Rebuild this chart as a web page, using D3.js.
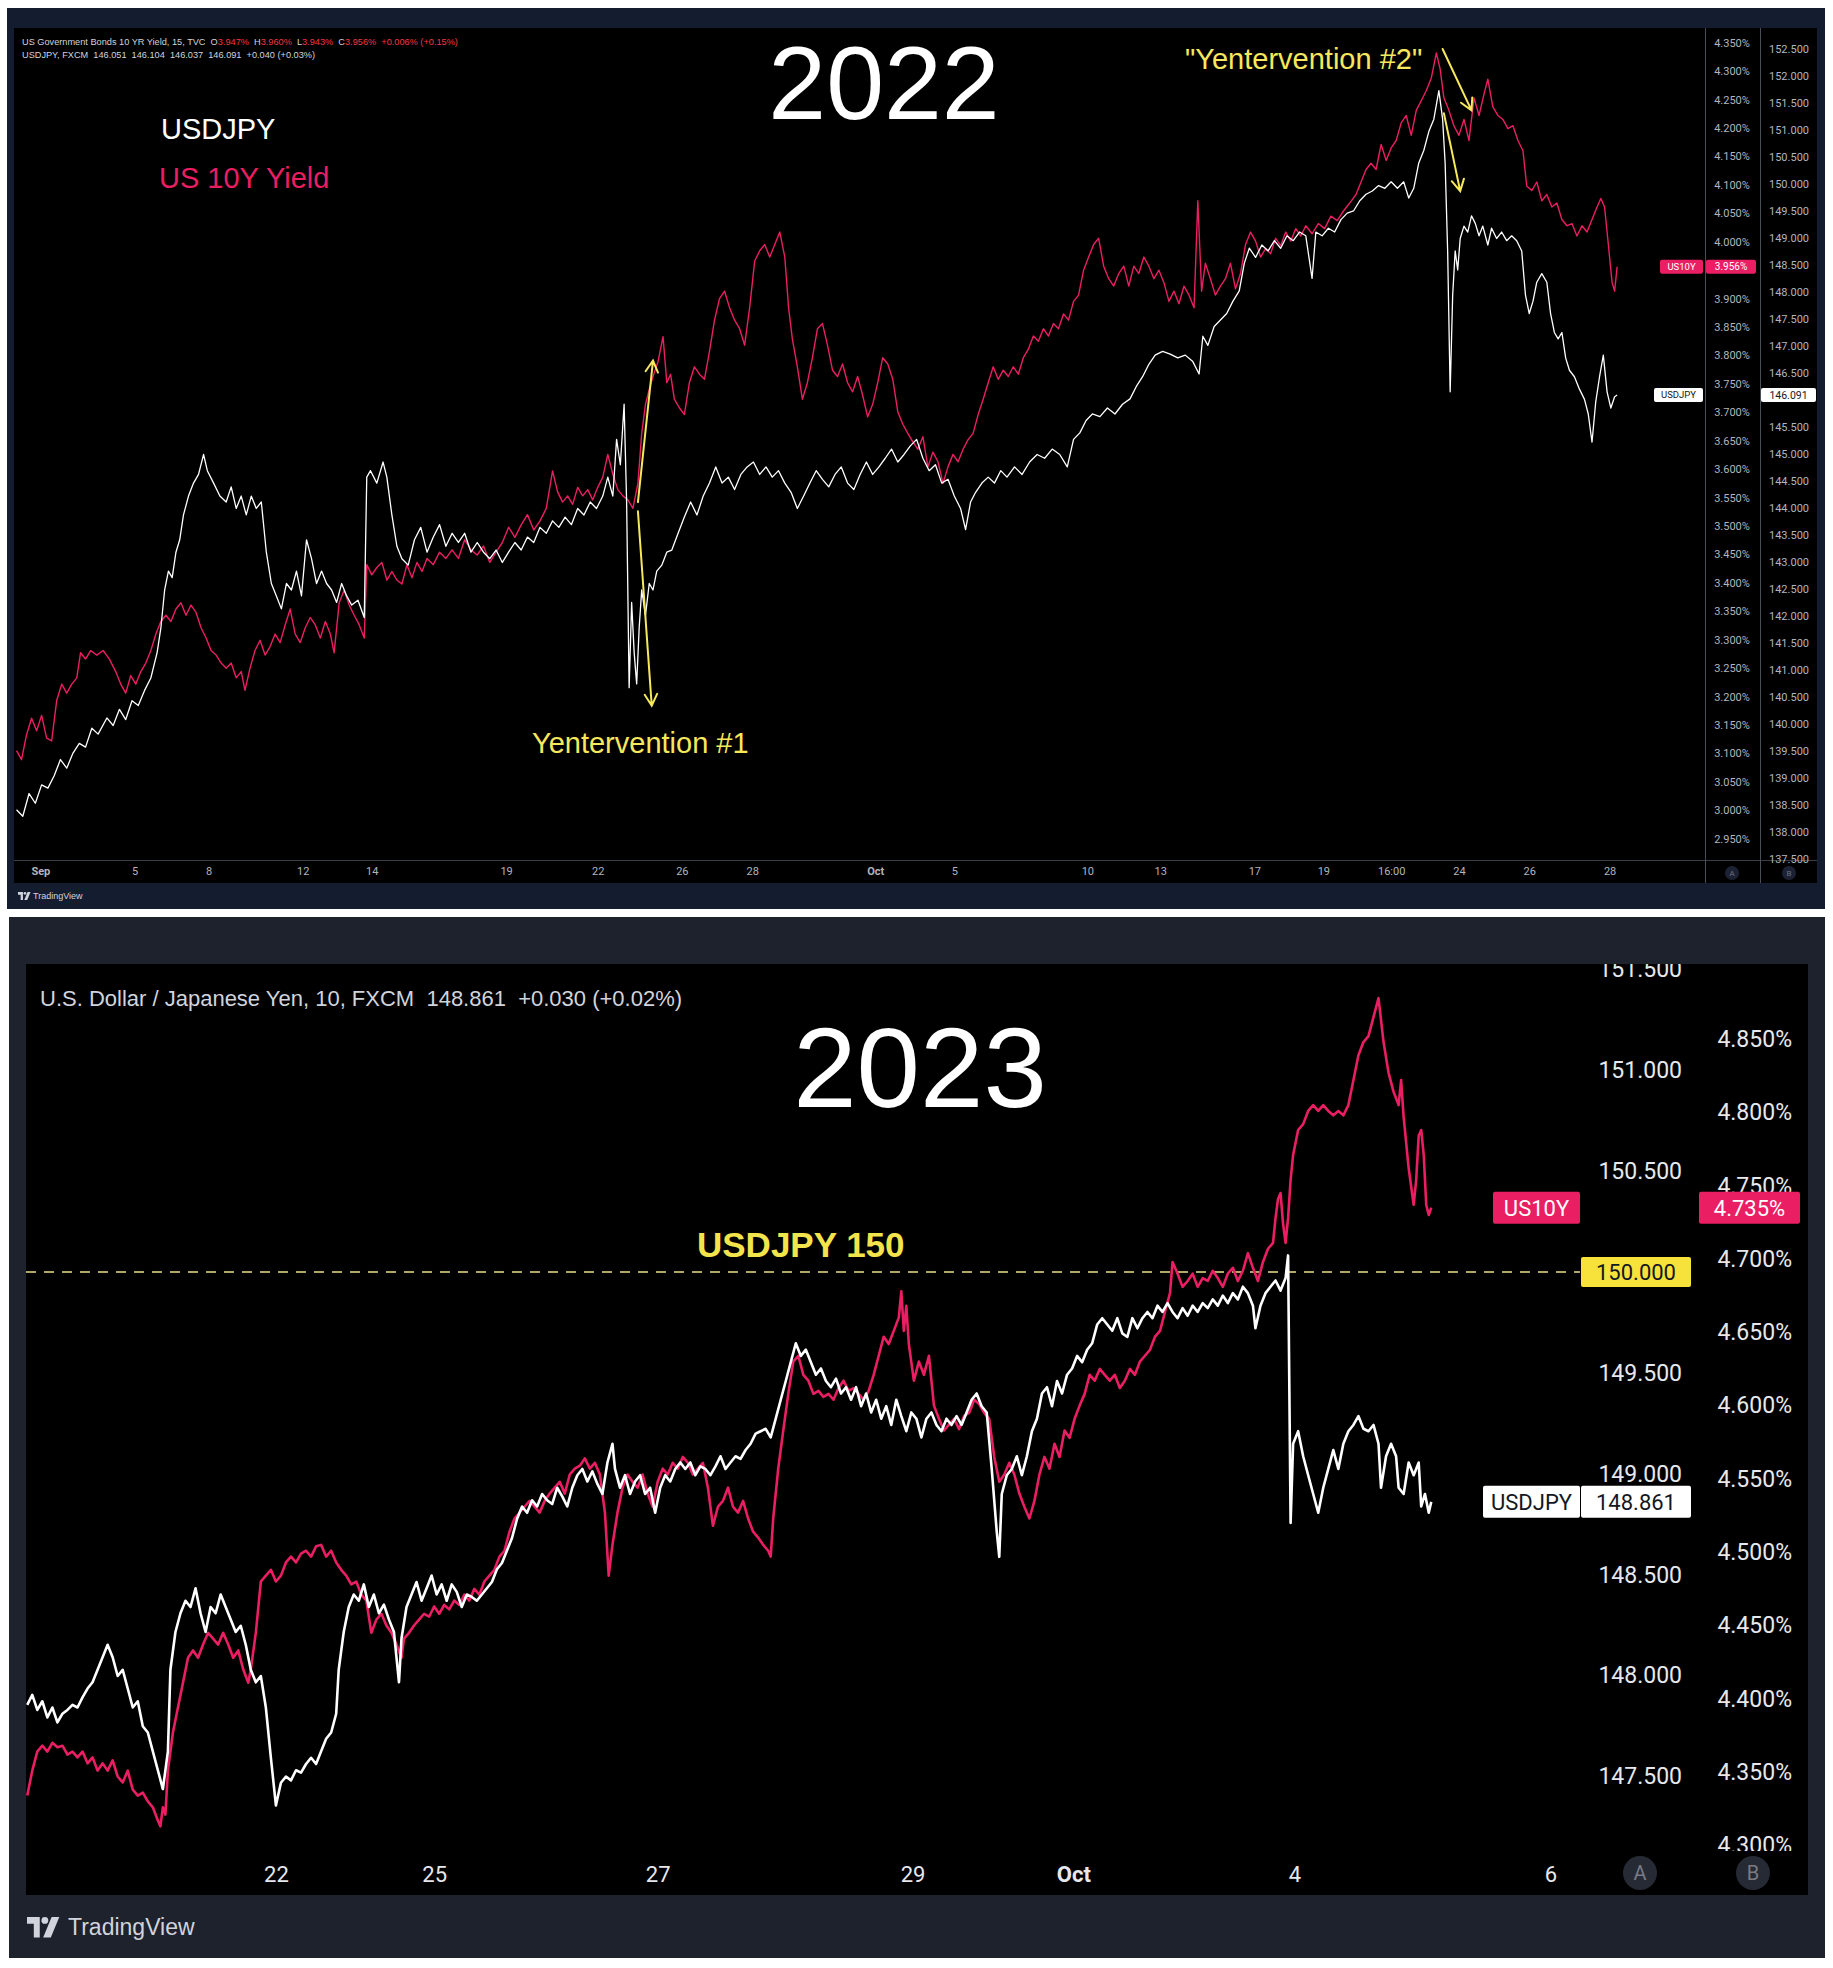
<!DOCTYPE html>
<html>
<head>
<meta charset="utf-8">
<title>USDJPY vs US 10Y Yield – 2022 / 2023</title>
<script src="https://cdn.jsdelivr.net/npm/d3@7"></script>
<style>
  body { margin: 0; background: #fff; }
  svg { display: block; }
  .pre { white-space: pre; }
</style>
</head>
<body>
<script>
// ---------- data (bar index, value) ----------
// 2022 panel, 15 min bars
const usdjpy2022 = [[13,138.41],[18,138.29],[23,138.71],[28,138.53],[33,138.87],[38,138.81],[43,139.04],[48,139.34],[53,139.18],[58,139.46],[63,139.64],[68,139.57],[73,139.92],[78,139.81],[85,140.11],[90,139.97],[95,140.27],[100,140.08],[105,140.43],[110,140.34],[115,140.62],[120,140.85],[125,141.32],[128,141.78],[131,142.48],[134,142.83],[137,142.71],[140,143.18],[143,143.41],[146,143.87],[150,144.22],[154,144.46],[158,144.62],[162,144.99],[165,144.69],[170,144.46],[175,144.22],[180,144.11],[184,144.39],[188,143.99],[192,144.22],[196,143.87],[200,144.22],[204,143.99],[208,144.11],[212,143.18],[216,142.60],[220,142.37],[224,142.13],[228,142.60],[232,142.48],[236,142.83],[240,142.37],[244,143.41],[248,143.06],[252,142.60],[256,142.83],[260,142.60],[264,142.48],[268,142.25],[272,142.60],[276,142.37],[280,142.20],[285,142.29],[290,141.97],[292,144.57],[295,144.69],[300,144.46],[305,144.85],[308,144.57],[312,143.87],[316,143.29],[320,143.06],[325,142.94],[330,143.41],[335,143.64],[340,143.18],[345,143.46],[350,143.69],[355,143.29],[360,143.53],[365,143.36],[370,143.53],[375,143.18],[380,143.36],[385,143.18],[390,143.06],[395,143.22],[400,142.99],[405,143.18],[410,143.36],[415,143.22],[420,143.46],[425,143.36],[430,143.64],[435,143.53],[440,143.76],[445,143.64],[450,143.83],[455,143.69],[460,143.99],[465,143.87],[470,144.11],[475,143.99],[480,144.22],[484,144.57],[488,144.22],[491,145.27],[494,144.80],[497,145.92],[499,144.11],[501,140.67],[503,142.25],[505,141.32],[507,140.74],[509,141.78],[511,142.48],[514,142.01],[517,142.60],[520,142.48],[523,142.83],[527,142.94],[531,143.18],[535,143.22],[540,143.53],[545,143.83],[550,144.11],[555,143.87],[560,144.22],[565,144.46],[570,144.76],[575,144.46],[580,144.57],[585,144.34],[590,144.62],[595,144.76],[600,144.85],[605,144.62],[610,144.76],[615,144.57],[620,144.69],[625,144.46],[630,144.29],[635,143.99],[640,144.22],[645,144.46],[650,144.69],[655,144.53],[660,144.39],[665,144.62],[670,144.76],[675,144.46],[680,144.34],[685,144.62],[690,144.85],[695,144.62],[700,144.76],[705,144.92],[710,145.09],[715,144.85],[720,144.99],[725,145.15],[730,145.27],[735,144.92],[740,144.69],[745,144.80],[750,144.46],[755,144.53],[760,144.22],[765,143.99],[769,143.60],[773,144.11],[777,144.29],[782,144.46],[787,144.57],[792,144.46],[797,144.69],[802,144.57],[808,144.76],[814,144.62],[820,144.85],[826,144.99],[832,144.92],[838,145.09],[844,144.99],[850,144.76],[855,145.27],[860,145.39],[865,145.62],[870,145.74],[876,145.69],[882,145.85],[888,145.74],[894,145.92],[900,146.02],[905,146.25],[910,146.43],[915,146.66],[920,146.83],[926,146.90],[932,146.85],[938,146.78],[944,146.83],[950,146.71],[955,146.48],[958,147.18],[962,147.01],[967,147.36],[972,147.48],[977,147.60],[982,147.83],[987,148.02],[991,148.53],[995,148.81],[1000,148.64],[1005,148.87],[1010,148.76],[1015,148.95],[1020,148.81],[1025,149.04],[1030,148.95],[1035,149.11],[1040,149.04],[1045,148.25],[1048,149.11],[1053,149.04],[1058,149.18],[1063,149.11],[1068,149.34],[1073,149.46],[1078,149.50],[1083,149.69],[1088,149.81],[1093,149.87],[1098,149.97],[1103,149.92],[1108,150.04],[1113,149.92],[1118,150.04],[1122,149.74],[1126,149.92],[1130,150.39],[1134,150.62],[1138,150.97],[1142,151.20],[1146,151.73],[1149,151.20],[1151,150.39],[1153,148.76],[1155,146.15],[1157,147.94],[1159,148.76],[1161,148.41],[1163,148.99],[1166,149.22],[1169,149.11],[1172,149.41],[1175,149.27],[1178,149.04],[1181,149.22],[1185,148.87],[1188,149.18],[1192,148.99],[1196,149.11],[1200,148.95],[1204,149.04],[1208,148.95],[1212,148.76],[1215,147.94],[1218,147.60],[1221,147.83],[1224,148.18],[1228,148.34],[1232,148.18],[1235,147.60],[1238,147.25],[1241,147.13],[1244,147.25],[1247,146.78],[1250,146.55],[1254,146.43],[1258,146.20],[1262,146.01],[1265,145.74],[1268,145.22],[1271,145.97],[1274,146.43],[1277,146.83],[1280,146.15],[1283,145.85],[1286,146.06],[1288,146.091]];

const us10y2022 = [[13,3.105],[17,3.089],[21,3.133],[25,3.162],[29,3.140],[33,3.167],[37,3.127],[41,3.122],[45,3.193],[49,3.222],[53,3.206],[57,3.222],[61,3.233],[64,3.277],[68,3.266],[72,3.281],[77,3.273],[82,3.281],[87,3.266],[92,3.244],[96,3.222],[100,3.206],[104,3.237],[108,3.222],[112,3.244],[116,3.259],[120,3.281],[124,3.310],[128,3.332],[132,3.343],[136,3.332],[140,3.354],[144,3.365],[148,3.343],[152,3.361],[156,3.348],[160,3.321],[164,3.303],[168,3.281],[172,3.273],[176,3.259],[180,3.250],[184,3.259],[188,3.233],[192,3.244],[195,3.211],[199,3.250],[203,3.281],[207,3.299],[211,3.273],[215,3.288],[219,3.310],[223,3.295],[227,3.326],[231,3.354],[235,3.310],[239,3.295],[243,3.321],[247,3.339],[251,3.326],[255,3.303],[259,3.332],[263,3.310],[266,3.277],[270,3.365],[274,3.387],[278,3.361],[282,3.343],[286,3.326],[290,3.303],[292,3.432],[296,3.414],[300,3.427],[304,3.436],[308,3.405],[312,3.420],[316,3.405],[320,3.398],[324,3.432],[328,3.409],[332,3.436],[336,3.420],[340,3.443],[345,3.432],[350,3.454],[355,3.443],[360,3.458],[365,3.443],[370,3.476],[375,3.458],[380,3.449],[385,3.465],[390,3.436],[395,3.454],[400,3.471],[405,3.498],[410,3.480],[415,3.502],[420,3.520],[425,3.493],[430,3.509],[435,3.531],[440,3.597],[444,3.560],[448,3.542],[452,3.553],[456,3.538],[460,3.568],[464,3.553],[468,3.564],[472,3.546],[476,3.568],[480,3.586],[484,3.626],[488,3.591],[492,3.564],[496,3.553],[500,3.546],[504,3.531],[508,3.575],[511,3.663],[514,3.714],[517,3.740],[520,3.763],[524,3.789],[528,3.833],[531,3.752],[534,3.767],[537,3.723],[541,3.708],[545,3.696],[549,3.752],[553,3.780],[557,3.767],[561,3.758],[565,3.807],[569,3.862],[573,3.900],[577,3.913],[581,3.884],[585,3.862],[589,3.847],[593,3.818],[597,3.884],[601,3.966],[605,3.984],[609,3.995],[613,3.973],[617,3.995],[621,4.017],[625,3.973],[628,3.884],[631,3.829],[635,3.780],[639,3.723],[643,3.752],[647,3.796],[651,3.847],[655,3.856],[659,3.818],[663,3.774],[667,3.763],[671,3.785],[675,3.752],[679,3.736],[683,3.763],[687,3.730],[691,3.692],[695,3.714],[699,3.752],[703,3.796],[707,3.785],[711,3.758],[715,3.701],[719,3.679],[723,3.663],[727,3.648],[731,3.635],[735,3.657],[739,3.604],[743,3.630],[747,3.613],[751,3.575],[755,3.604],[759,3.626],[763,3.613],[767,3.635],[771,3.652],[775,3.663],[779,3.696],[783,3.723],[787,3.752],[791,3.780],[795,3.758],[799,3.774],[803,3.763],[807,3.780],[811,3.767],[815,3.796],[819,3.811],[823,3.834],[827,3.825],[831,3.847],[835,3.834],[839,3.856],[843,3.847],[847,3.873],[851,3.862],[855,3.895],[859,3.906],[863,3.950],[867,3.973],[871,3.995],[875,4.006],[879,3.957],[883,3.935],[887,3.922],[891,3.944],[895,3.957],[899,3.922],[903,3.957],[907,3.944],[911,3.973],[915,3.957],[919,3.935],[923,3.950],[927,3.928],[931,3.895],[935,3.913],[939,3.891],[943,3.922],[947,3.906],[951,3.884],[954,4.072],[957,3.913],[960,3.962],[964,3.935],[968,3.906],[972,3.922],[976,3.935],[980,3.962],[984,3.917],[988,3.944],[992,3.995],[996,4.017],[1000,4.001],[1004,3.973],[1008,3.988],[1012,3.979],[1016,4.006],[1020,3.993],[1024,4.017],[1028,4.001],[1032,4.023],[1036,4.010],[1040,4.028],[1045,4.014],[1050,4.032],[1055,4.023],[1060,4.045],[1065,4.037],[1070,4.054],[1075,4.068],[1080,4.083],[1084,4.105],[1088,4.127],[1092,4.138],[1096,4.127],[1100,4.171],[1104,4.143],[1108,4.165],[1112,4.178],[1116,4.209],[1120,4.222],[1124,4.187],[1128,4.231],[1132,4.248],[1136,4.266],[1140,4.288],[1144,4.332],[1147,4.304],[1150,4.253],[1154,4.231],[1158,4.204],[1162,4.187],[1166,4.215],[1170,4.178],[1174,4.253],[1178,4.222],[1182,4.260],[1185,4.286],[1189,4.237],[1193,4.222],[1197,4.215],[1201,4.199],[1205,4.204],[1209,4.178],[1213,4.160],[1216,4.098],[1220,4.090],[1224,4.105],[1228,4.072],[1232,4.083],[1236,4.061],[1240,4.068],[1244,4.039],[1248,4.028],[1252,4.032],[1256,4.010],[1260,4.028],[1264,4.017],[1268,4.039],[1272,4.061],[1275,4.076],[1278,4.061],[1281,3.995],[1284,3.928],[1286,3.913],[1288,3.956]];

// 2023 panel, 10 min bars
const usdjpy2023 = [[22,147.855],[26,147.905],[30,147.830],[34,147.873],[38,147.793],[42,147.842],[46,147.768],[50,147.811],[54,147.830],[58,147.855],[62,147.842],[66,147.892],[70,147.936],[74,147.967],[78,148.029],[82,148.091],[86,148.153],[90,148.091],[94,147.998],[98,148.029],[102,147.936],[106,147.842],[110,147.873],[114,147.749],[118,147.718],[122,147.625],[126,147.531],[130,147.438],[134,147.625],[136,148.029],[140,148.216],[144,148.309],[148,148.371],[152,148.340],[156,148.433],[160,148.309],[164,148.216],[168,148.340],[172,148.309],[176,148.402],[180,148.340],[184,148.278],[188,148.216],[192,148.247],[196,148.153],[200,148.029],[204,147.967],[208,147.998],[212,147.842],[216,147.593],[220,147.357],[224,147.469],[228,147.500],[232,147.481],[236,147.531],[240,147.519],[244,147.562],[248,147.593],[252,147.562],[256,147.625],[260,147.687],[264,147.718],[268,147.811],[270,148.029],[274,148.216],[278,148.340],[282,148.402],[286,148.371],[290,148.452],[294,148.340],[298,148.402],[302,148.309],[306,148.352],[310,148.278],[314,148.216],[318,147.967],[320,148.184],[324,148.340],[328,148.402],[332,148.464],[336,148.371],[340,148.433],[344,148.496],[348,148.402],[352,148.452],[356,148.371],[360,148.452],[364,148.415],[368,148.340],[372,148.402],[376,148.390],[380,148.371],[384,148.402],[388,148.433],[392,148.464],[396,148.527],[400,148.558],[404,148.620],[408,148.682],[412,148.776],[416,148.838],[420,148.807],[424,148.869],[428,148.838],[432,148.900],[436,148.869],[440,148.850],[444,148.931],[448,148.888],[452,148.838],[456,148.931],[460,148.993],[464,149.024],[468,148.962],[472,149.012],[476,148.950],[480,148.900],[484,149.056],[488,149.149],[490,149.024],[494,148.931],[498,148.993],[502,148.900],[506,148.962],[510,148.993],[514,148.900],[518,148.931],[522,148.807],[526,148.931],[530,148.993],[534,148.962],[538,149.024],[542,149.056],[546,149.024],[550,149.056],[554,148.993],[558,149.037],[562,149.024],[566,148.993],[570,149.037],[574,149.087],[578,149.024],[582,149.056],[586,149.087],[590,149.074],[594,149.118],[598,149.149],[602,149.199],[606,149.211],[610,149.223],[614,149.180],[618,149.273],[622,149.367],[626,149.460],[630,149.553],[634,149.647],[638,149.584],[642,149.615],[646,149.553],[650,149.491],[654,149.522],[658,149.460],[662,149.429],[666,149.472],[670,149.398],[674,149.429],[678,149.367],[682,149.429],[686,149.335],[690,149.398],[694,149.304],[698,149.367],[702,149.273],[706,149.335],[710,149.242],[714,149.367],[718,149.286],[722,149.211],[726,149.304],[730,149.273],[734,149.180],[738,149.273],[742,149.304],[746,149.242],[750,149.211],[754,149.273],[758,149.242],[762,149.286],[766,149.242],[770,149.304],[774,149.367],[778,149.398],[782,149.335],[786,149.304],[790,149.024],[794,148.713],[796,148.589],[798,148.900],[802,148.993],[806,149.024],[810,149.087],[814,148.993],[818,149.087],[822,149.211],[826,149.273],[830,149.398],[834,149.429],[838,149.335],[842,149.460],[846,149.398],[850,149.491],[854,149.522],[858,149.584],[862,149.553],[866,149.615],[870,149.647],[874,149.740],[878,149.771],[882,149.740],[886,149.709],[890,149.771],[894,149.696],[898,149.678],[902,149.771],[906,149.721],[910,149.771],[914,149.802],[918,149.771],[922,149.833],[926,149.802],[930,149.846],[934,149.802],[938,149.771],[942,149.821],[946,149.783],[950,149.833],[954,149.802],[958,149.846],[962,149.821],[966,149.864],[970,149.833],[974,149.883],[978,149.846],[982,149.895],[986,149.864],[990,149.927],[994,149.895],[998,149.833],[1000,149.721],[1004,149.833],[1008,149.895],[1012,149.927],[1016,149.958],[1020,149.908],[1024,149.970],[1026,150.082],[1028,148.757],[1030,149.149],[1034,149.211],[1038,149.087],[1042,148.993],[1046,148.900],[1050,148.807],[1054,148.931],[1058,149.024],[1062,149.118],[1066,149.024],[1070,149.149],[1074,149.211],[1078,149.242],[1082,149.286],[1086,149.223],[1090,149.211],[1094,149.242],[1098,149.149],[1100,148.931],[1104,149.087],[1108,149.149],[1112,149.087],[1114,148.931],[1118,148.900],[1122,149.056],[1126,148.993],[1128,149.024],[1130,149.056],[1132,148.838],[1135,148.900],[1138,148.807],[1140,148.861]];

const us10y2023 = [[22,4.334],[26,4.351],[30,4.364],[34,4.368],[38,4.364],[42,4.370],[46,4.367],[50,4.368],[54,4.362],[58,4.364],[62,4.360],[66,4.364],[70,4.356],[74,4.360],[78,4.351],[82,4.356],[86,4.351],[90,4.358],[94,4.347],[98,4.343],[102,4.351],[106,4.338],[110,4.334],[114,4.336],[118,4.330],[122,4.326],[126,4.317],[128,4.313],[130,4.326],[132,4.321],[134,4.351],[138,4.377],[142,4.394],[146,4.411],[150,4.428],[154,4.433],[158,4.428],[162,4.437],[166,4.445],[170,4.441],[174,4.437],[178,4.445],[182,4.437],[186,4.428],[190,4.433],[194,4.420],[198,4.411],[200,4.420],[204,4.445],[208,4.480],[212,4.484],[216,4.488],[220,4.480],[224,4.484],[228,4.493],[232,4.497],[236,4.493],[240,4.499],[244,4.501],[248,4.497],[252,4.504],[256,4.505],[260,4.497],[264,4.501],[268,4.493],[272,4.488],[276,4.484],[280,4.478],[284,4.480],[288,4.471],[292,4.467],[296,4.445],[300,4.454],[304,4.458],[308,4.450],[312,4.445],[316,4.437],[320,4.428],[322,4.441],[326,4.445],[330,4.450],[334,4.454],[338,4.458],[342,4.456],[346,4.463],[350,4.458],[354,4.464],[358,4.461],[362,4.467],[366,4.464],[370,4.471],[374,4.467],[378,4.475],[382,4.471],[386,4.480],[390,4.484],[394,4.488],[398,4.497],[402,4.501],[406,4.514],[410,4.523],[414,4.527],[418,4.531],[422,4.535],[426,4.531],[430,4.527],[434,4.535],[438,4.540],[442,4.544],[446,4.548],[450,4.540],[454,4.553],[458,4.557],[462,4.559],[466,4.564],[470,4.557],[474,4.561],[478,4.553],[482,4.527],[485,4.484],[488,4.505],[492,4.527],[496,4.544],[500,4.553],[504,4.548],[508,4.544],[512,4.553],[516,4.540],[520,4.531],[524,4.548],[528,4.557],[532,4.553],[536,4.561],[540,4.557],[544,4.565],[548,4.561],[552,4.553],[556,4.557],[560,4.561],[564,4.544],[568,4.518],[572,4.531],[576,4.535],[580,4.544],[584,4.531],[588,4.527],[592,4.535],[596,4.523],[600,4.514],[604,4.510],[608,4.505],[612,4.501],[614,4.497],[616,4.523],[620,4.557],[624,4.583],[628,4.608],[632,4.630],[636,4.634],[640,4.621],[644,4.617],[648,4.608],[652,4.610],[656,4.606],[660,4.608],[664,4.604],[668,4.612],[672,4.617],[676,4.610],[680,4.612],[684,4.608],[688,4.604],[692,4.610],[696,4.621],[700,4.634],[704,4.647],[708,4.642],[712,4.651],[716,4.660],[718,4.678],[720,4.651],[722,4.668],[724,4.642],[728,4.617],[732,4.630],[736,4.621],[740,4.634],[744,4.600],[748,4.591],[752,4.583],[756,4.587],[760,4.591],[764,4.584],[768,4.593],[772,4.595],[776,4.604],[780,4.601],[784,4.595],[788,4.591],[792,4.565],[796,4.548],[800,4.553],[804,4.561],[808,4.553],[812,4.540],[816,4.531],[820,4.523],[824,4.535],[828,4.553],[832,4.565],[836,4.557],[840,4.574],[844,4.565],[848,4.583],[852,4.578],[856,4.591],[860,4.600],[864,4.608],[868,4.621],[872,4.617],[876,4.625],[880,4.621],[884,4.617],[888,4.621],[892,4.612],[896,4.617],[900,4.625],[904,4.621],[908,4.630],[912,4.634],[916,4.638],[920,4.647],[924,4.651],[928,4.664],[932,4.677],[934,4.698],[938,4.690],[942,4.681],[946,4.685],[950,4.690],[954,4.681],[958,4.687],[962,4.685],[966,4.692],[970,4.687],[974,4.681],[978,4.690],[982,4.694],[986,4.685],[990,4.692],[994,4.704],[998,4.694],[1002,4.685],[1006,4.698],[1010,4.707],[1014,4.711],[1016,4.728],[1018,4.741],[1020,4.745],[1022,4.724],[1024,4.711],[1026,4.728],[1028,4.754],[1030,4.771],[1034,4.788],[1038,4.792],[1042,4.801],[1046,4.805],[1050,4.801],[1054,4.805],[1058,4.801],[1062,4.798],[1066,4.801],[1070,4.798],[1074,4.805],[1078,4.822],[1082,4.839],[1086,4.848],[1090,4.852],[1094,4.865],[1098,4.878],[1102,4.848],[1106,4.827],[1110,4.814],[1114,4.805],[1116,4.822],[1118,4.797],[1122,4.762],[1126,4.737],[1128,4.754],[1130,4.784],[1132,4.788],[1134,4.771],[1136,4.737],[1138,4.730],[1140,4.735]];

// axis ticks (levels hidden behind the last-value tags are left out)
const xTicks2022 = [[32,"Sep"],[107,"5"],[166,"8"],[241,"12"],[296,"14"],[403,"19"],[476,"22"],[543,"26"],[599,"28"],[697,"Oct"],[760,"5"],[866,"10"],[924,"13"],[999,"17"],[1054,"19"],[1108,"16:00"],[1162,"24"],[1218,"26"],[1282,"28"]];
const pctTicks2022 = [4.35,4.30,4.25,4.20,4.15,4.10,4.05,4.00,3.90,3.85,3.80,3.75,3.70,3.65,3.60,3.55,3.50,3.45,3.40,3.35,3.30,3.25,3.20,3.15,3.10,3.05,3.00,2.95];
const pxTicks2022 = [152.5,152.0,151.5,151.0,150.5,150.0,149.5,149.0,148.5,148.0,147.5,147.0,146.5,145.5,145.0,144.5,144.0,143.5,143.0,142.5,142.0,141.5,141.0,140.5,140.0,139.5,139.0,138.5,138.0,137.5];
const xTicks2023 = [[220,"22"],[346,"25"],[524,"27"],[727,"29"],[855,"Oct"],[1031,"4"],[1235,"6"]];
const pxTicks2023 = [151.5,151.0,150.5,149.5,149.0,148.5,148.0,147.5];
const pctTicks2023 = [4.85,4.80,4.75,4.70,4.65,4.60,4.55,4.50,4.45,4.40,4.35,4.30];

// annotation arrows of the 2022 panel: [bar, yield] -> [bar, yield]
const arrows2022 = [[[508,3.542],[520,3.791]],[[508,3.526],[519,3.184]],[[1149,4.339],[1172,4.231]],[[1150,4.226],[1163,4.089]]];
const level2023 = 150.0;

// ---------- setup ----------
const W = 1833, H = 1968;
const UI = "Roboto, 'Liberation Sans', sans-serif";
const SANS = "'Liberation Sans', Arial, sans-serif";
const PINK = "#e91e63", YELLOW = "#f6e85c";
const f3 = d3.format(".3f");

const svg = d3.select("body").append("svg").attr("width", W).attr("height", H);
svg.append("rect").attr("width", W).attr("height", H).attr("fill", "#fff");
const defs = svg.append("defs");

function clip(id, x, y, w, h) {
  defs.append("clipPath").attr("id", id).append("rect").attr("x", x).attr("y", y).attr("width", w).attr("height", h);
  return "url(#" + id + ")";
}

function tag(x, y, w, h, fill, txt, color, size) {
  svg.append("rect").attr("x", x).attr("y", y - h / 2).attr("width", w).attr("height", h).attr("rx", 2).attr("fill", fill);
  svg.append("text").attr("x", x + w / 2).attr("y", y).attr("dy", "0.36em").attr("text-anchor", "middle")
    .attr("fill", color).attr("font-family", UI).attr("font-size", size).text(txt);
}

function tvLogo(x, y, s, fill) {
  const g = svg.append("g").attr("transform", `translate(${x},${y}) scale(${s})`).attr("fill", fill);
  g.append("path").attr("d", "M0 0H15V24H8V8H0Z");
  g.append("circle").attr("cx", 21).attr("cy", 4).attr("r", 4);
  g.append("path").attr("d", "M29 0H38L28 24H19Z");
}

function styleAxis(g, size, color, anchor) {
  g.select(".domain").remove();
  g.attr("font-family", UI).attr("font-size", size).attr("color", color);
  if (anchor) g.selectAll("text").attr("text-anchor", anchor);
}

// ================= 2022 panel =================
svg.append("rect").attr("x", 7).attr("y", 8).attr("width", 1818).attr("height", 901).attr("fill", "#141c2f");
svg.append("rect").attr("x", 14).attr("y", 28).attr("width", 1803).attr("height", 855).attr("fill", "#000");

const xTop = d3.scaleLinear().domain([11, 1358]).range([14, 1705]);
const yTopPct = d3.scaleLinear().domain([2.91261, 4.37585]).range([860, 28]);
const yTopPx = d3.scaleLinear().domain([137.479, 152.889]).range([860, 28]);

// separators
svg.append("line").attr("x1", 14).attr("x2", 1817).attr("y1", 860.5).attr("y2", 860.5).attr("stroke", "#3a3e49");
[1705.5, 1760.5].forEach(x => svg.append("line").attr("x1", x).attr("x2", x).attr("y1", 28).attr("y2", 883).attr("stroke", "#4a4e59"));

const topClip = clip("topPane", 14, 28, 1691, 832);
const gTop = svg.append("g").attr("clip-path", topClip);
gTop.append("path").datum(us10y2022)
  .attr("d", d3.line().x(d => xTop(d[0])).y(d => yTopPct(d[1])))
  .attr("fill", "none").attr("stroke", PINK).attr("stroke-width", 1.4).attr("stroke-linejoin", "round");
gTop.append("path").datum(usdjpy2022)
  .attr("d", d3.line().x(d => xTop(d[0])).y(d => yTopPx(d[1])))
  .attr("fill", "none").attr("stroke", "#fff").attr("stroke-width", 1.3).attr("stroke-linejoin", "round");

// price scales
const axTopPct = svg.append("g").attr("transform", "translate(1732,0)")
  .call(d3.axisRight(yTopPct).tickValues(pctTicks2022).tickFormat(d => f3(d) + "%").tickSize(0).tickPadding(0));
styleAxis(axTopPct, 11, "#b2b5be", "middle");
const axTopPx = svg.append("g").attr("transform", "translate(1789,0)")
  .call(d3.axisRight(yTopPx).tickValues(pxTicks2022).tickFormat(f3).tickSize(0).tickPadding(0));
styleAxis(axTopPx, 11, "#b2b5be", "middle");

// time scale
const axTopX = svg.append("g").attr("transform", "translate(0,860)")
  .call(d3.axisBottom(xTop).tickValues(xTicks2022.map(d => d[0])).tickFormat((d, i) => xTicks2022[i][1]).tickSize(0).tickPadding(7));
styleAxis(axTopX, 11, "#b2b5be");
axTopX.selectAll("text").attr("font-weight", (d, i) => /^[A-Z]/.test(xTicks2022[i][1]) ? 700 : 400);

// A / B buttons
[[1732, "A"], [1789, "B"]].forEach(([x, t]) => {
  svg.append("circle").attr("cx", x).attr("cy", 873).attr("r", 7).attr("fill", "#1c2233");
  svg.append("text").attr("x", x).attr("y", 873).attr("dy", "0.36em").attr("text-anchor", "middle")
    .attr("font-family", UI).attr("font-size", 8).attr("fill", "#6b7080").text(t);
});

// last value tags
const yLastPct22 = yTopPct(us10y2022[us10y2022.length - 1][1]);
const yLastPx22 = yTopPx(usdjpy2022[usdjpy2022.length - 1][1]);
tag(1660, yLastPct22, 43, 14, PINK, "US10Y", "#fff", 9.5);
tag(1706, yLastPct22, 50, 14, PINK, "3.956%", "#fff", 10);
tag(1654, yLastPx22, 49, 14, "#fff", "USDJPY", "#131722", 9.5);
tag(1761, yLastPx22, 55, 14, "#fff", "146.091", "#131722", 10.5);

// legend / header
const h1 = svg.append("text").attr("class", "pre").attr("x", 22).attr("y", 45).attr("font-family", SANS).attr("font-size", 9.2).attr("fill", "#d1d4dc");
h1.append("tspan").text("US Government Bonds 10 YR Yield, 15, TVC  O");
h1.append("tspan").attr("fill", "#f23645").text("3.947%");
h1.append("tspan").text("  H");
h1.append("tspan").attr("fill", "#f23645").text("3.960%");
h1.append("tspan").text("  L");
h1.append("tspan").attr("fill", "#f23645").text("3.943%");
h1.append("tspan").text("  C");
h1.append("tspan").attr("fill", "#f23645").text("3.956%  +0.006% (+0.15%)");
svg.append("text").attr("class", "pre").attr("x", 22).attr("y", 58).attr("font-family", SANS).attr("font-size", 9.2).attr("fill", "#d1d4dc")
  .text("USDJPY, FXCM  146.051  146.104  146.037  146.091  +0.040 (+0.03%)");

svg.append("text").attr("x", 884).attr("y", 119).attr("text-anchor", "middle").attr("font-family", SANS)
  .attr("font-size", 104).attr("fill", "#fff").text("2022");
svg.append("text").attr("x", 161).attr("y", 139).attr("font-family", SANS).attr("font-size", 29).attr("fill", "#fff").text("USDJPY");
svg.append("text").attr("x", 159).attr("y", 188).attr("font-family", SANS).attr("font-size", 29).attr("fill", PINK).text("US 10Y Yield");
svg.append("text").attr("x", 532).attr("y", 753).attr("font-family", SANS).attr("font-size", 29).attr("fill", YELLOW).text("Yentervention #1");
svg.append("text").attr("x", 1185).attr("y", 69).attr("font-family", SANS).attr("font-size", 29).attr("fill", YELLOW).text("\"Yentervention #2\"");

// arrows
arrows2022.forEach(([p0, p1]) => {
  const x0 = xTop(p0[0]), y0 = yTopPct(p0[1]), x1 = xTop(p1[0]), y1 = yTopPct(p1[1]);
  const a = Math.atan2(y1 - y0, x1 - x0), L = 13, s = 0.5;
  const d = `M${x0},${y0}L${x1},${y1}M${x1 - L * Math.cos(a - s)},${y1 - L * Math.sin(a - s)}L${x1},${y1}L${x1 - L * Math.cos(a + s)},${y1 - L * Math.sin(a + s)}`;
  svg.append("path").attr("d", d).attr("fill", "none").attr("stroke", YELLOW).attr("stroke-width", 2).attr("stroke-linecap", "round");
});

tvLogo(18, 892, 0.33, "#d1d4dc");
svg.append("text").attr("x", 33).attr("y", 899).attr("font-family", SANS).attr("font-size", 9).attr("fill", "#d1d4dc").text("TradingView");

// ================= 2023 panel =================
svg.append("rect").attr("x", 9).attr("y", 917).attr("width", 1816).attr("height", 1041).attr("fill", "#1e222d");
svg.append("rect").attr("x", 26).attr("y", 964).attr("width", 1782).attr("height", 931).attr("fill", "#000");

const xBot = d3.scaleLinear().domain([21, 1440]).range([26, 1808]);
const yBotPx = d3.scaleLinear().domain([146.913, 151.526]).range([1895, 964]);
const yBotPct = d3.scaleLinear().domain([4.26617, 4.90123]).range([1895, 964]);

// 150 level
svg.append("line").attr("x1", 26).attr("x2", 1580).attr("y1", yBotPx(level2023)).attr("y2", yBotPx(level2023))
  .attr("stroke", "#e9df8c").attr("stroke-width", 1.6).attr("stroke-dasharray", "10,8");

const botClip = clip("botPane", 26, 964, 1782, 887);
const gBot = svg.append("g").attr("clip-path", botClip);
gBot.append("path").datum(us10y2023)
  .attr("d", d3.line().x(d => xBot(d[0])).y(d => yBotPct(d[1])))
  .attr("fill", "none").attr("stroke", PINK).attr("stroke-width", 2.6).attr("stroke-linejoin", "round");
gBot.append("path").datum(usdjpy2023)
  .attr("d", d3.line().x(d => xBot(d[0])).y(d => yBotPx(d[1])))
  .attr("fill", "none").attr("stroke", "#fff").attr("stroke-width", 2.6).attr("stroke-linejoin", "round");

// price scales (clipped like the pane)
const gScales = svg.append("g").attr("clip-path", botClip);
const axBotPx = gScales.append("g").attr("transform", "translate(1682,0)")
  .call(d3.axisLeft(yBotPx).tickValues(pxTicks2023).tickFormat(f3).tickSize(0).tickPadding(0));
styleAxis(axBotPx, 23, "#e6e8ee");
const axBotPct = gScales.append("g").attr("transform", "translate(1792,0)")
  .call(d3.axisLeft(yBotPct).tickValues(pctTicks2023).tickFormat(d => f3(d) + "%").tickSize(0).tickPadding(0));
styleAxis(axBotPct, 23, "#e6e8ee");

const axBotX = svg.append("g").attr("transform", "translate(0,1851)")
  .call(d3.axisBottom(xBot).tickValues(xTicks2023.map(d => d[0])).tickFormat((d, i) => xTicks2023[i][1]).tickSize(0).tickPadding(15));
styleAxis(axBotX, 22, "#e6e8ee");
axBotX.selectAll("text").attr("font-weight", (d, i) => /^[A-Z]/.test(xTicks2023[i][1]) ? 700 : 400);

[[1640, "A"], [1753, "B"]].forEach(([x, t]) => {
  svg.append("circle").attr("cx", x).attr("cy", 1873).attr("r", 17).attr("fill", "#262a35");
  svg.append("text").attr("x", x).attr("y", 1873).attr("dy", "0.36em").attr("text-anchor", "middle")
    .attr("font-family", UI).attr("font-size", 20).attr("fill", "#787b86").text(t);
});

// tags
const yLastPct23 = yBotPct(us10y2023[us10y2023.length - 1][1]);
const yLastPx23 = yBotPx(usdjpy2023[usdjpy2023.length - 1][1]);
tag(1493, yLastPct23, 87, 32, PINK, "US10Y", "#fff", 22);
tag(1699, yLastPct23, 101, 32, PINK, "4.735%", "#fff", 22);
tag(1581, yBotPx(level2023), 110, 30, "#f7e23b", "150.000", "#131722", 22);
tag(1483, yLastPx23, 97, 32, "#fff", "USDJPY", "#131722", 22);
tag(1581, yLastPx23, 110, 32, "#fff", "148.861", "#131722", 22);

// header and notes
svg.append("text").attr("class", "pre").attr("x", 40).attr("y", 998).attr("dy", "0.35em").attr("font-family", SANS).attr("font-size", 22).attr("fill", "#d1d4dc")
  .text("U.S. Dollar / Japanese Yen, 10, FXCM  148.861  +0.030 (+0.02%)");
svg.append("text").attr("x", 920).attr("y", 1107).attr("text-anchor", "middle").attr("font-family", SANS)
  .attr("font-size", 114).attr("fill", "#fff").text("2023");
svg.append("text").attr("x", 697).attr("y", 1257).attr("font-family", SANS).attr("font-weight", 700)
  .attr("font-size", 35).attr("fill", "#f3e44c").text("USDJPY 150");

tvLogo(27, 1917, 0.85, "#d1d4dc");
svg.append("text").attr("x", 68).attr("y", 1927).attr("dy", "0.35em").attr("font-family", SANS).attr("font-size", 23).attr("fill", "#d1d4dc").text("TradingView");
</script>
</body>
</html>
